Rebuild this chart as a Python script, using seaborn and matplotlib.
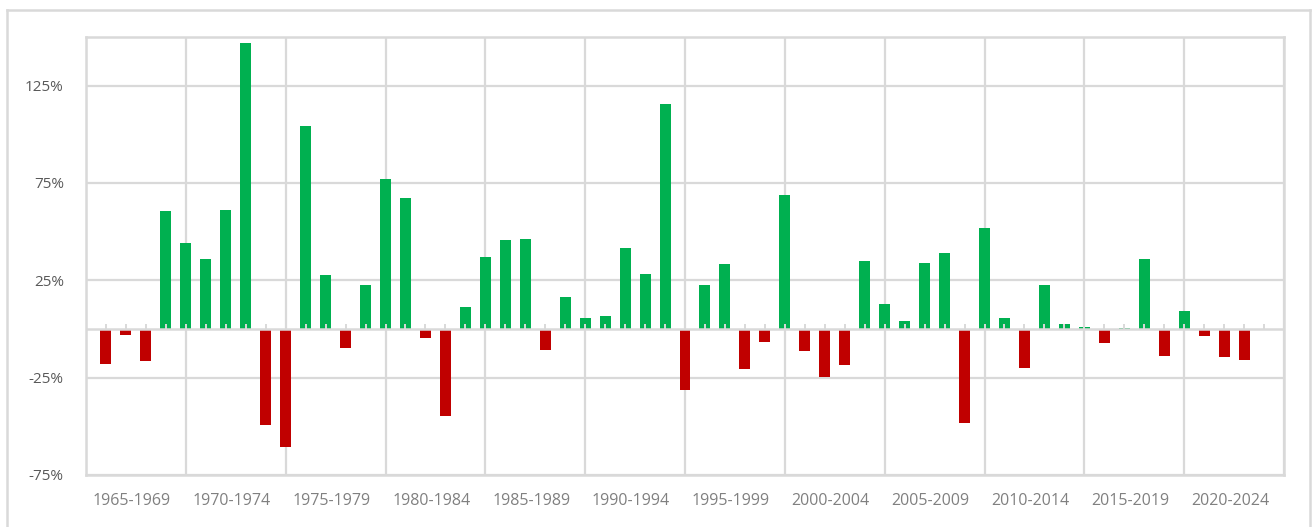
import numpy as np
import pandas as pd
import matplotlib.pyplot as plt
import seaborn as sns
from matplotlib.lines import Line2D
from matplotlib.ticker import FixedLocator, NullFormatter

# ── Data (annual returns, %) ─────────────────────────────────────────────────
years = list(range(1965, 2023))
returns = [
    -18.1, -3.3, -16.6, 60.5, 44.4, 35.9, 61.0, 146.8, -49.1, -60.8,
    104.3, 27.6, -9.8, 22.5, 77.2, 67.4, -4.8, -44.9, 11.4, 37.1,
    45.8, 46.3, -10.9, 16.4, 5.4, 6.6, 41.8, 28.0, 115.6, -31.4,
    22.8, 33.3, -20.7, -6.9, 68.8, -11.4, -24.9, -18.7, 34.7, 13.0,
    4.3, 33.9, 39.0, -48.4, 52.0, 5.4, -20.2, 22.8, 2.8, 1.2,
    -7.4, 0.3, 35.8, -14.0, 9.0, -3.8, -14.5, -16.1,
]
period_labels = ["1965-1969", "1970-1974", "1975-1979", "1980-1984", "1985-1989",
                 "1990-1994", "1995-1999", "2000-2004", "2005-2009", "2010-2014",
                 "2015-2019", "2020-2024"]
y_ticks = [-75, -25, 25, 75, 125]

GREEN, RED, GRID = "#00B050", "#C00000", "#D9D9D9"

df = pd.DataFrame({"year": years, "ret": returns})
df["sign"] = np.where(df["ret"] >= 0, "up", "down")

plt.rcParams["font.family"] = ["Open Sans", "DejaVu Sans"]

fig = plt.figure(figsize=(13.12, 5.27), dpi=100)
ax = fig.add_axes([86 / 1312, 1 - 475 / 527, (1284 - 86) / 1312, (475 - 37) / 527])

sns.barplot(data=df, x="year", y="ret", hue="sign",
            palette={"up": GREEN, "down": RED}, native_scale=True,
            width=0.55, dodge=False, errorbar=None, saturation=1,
            legend=False, ax=ax, zorder=2)

# axes range and grid (one gridline every 5 years, labels between them)
x0, x1 = years[0] - 1, years[0] - 1 + 5 * len(period_labels)
ax.set_xlim(x0, x1)
ax.set_ylim(-75, 150)
ax.set_xticks(np.arange(x0, x1 + 1, 5))
ax.xaxis.set_major_formatter(NullFormatter())
ax.xaxis.set_minor_locator(FixedLocator(np.arange(x0, x1, 5) + 2.3))
ax.set_xticklabels(period_labels, minor=True)
ax.set_yticks(y_ticks)
ax.set_yticklabels([f"{t}%" for t in y_ticks])
ax.grid(True, color=GRID, lw=1.6, zorder=0)
ax.set_axisbelow(True)
ax.tick_params(axis="both", which="both", length=0)
ax.tick_params(axis="x", which="minor", labelsize=11.5, labelcolor="#808080", pad=13)
ax.tick_params(axis="y", labelsize=11, labelcolor="#595959", pad=16)
ax.set_xlabel("")
ax.set_ylabel("")
for sp in ax.spines.values():
    sp.set_color(GRID)
    sp.set_linewidth(1.8)

# zero line with small year ticks
ax.axhline(0, color=GRID, lw=1.8, zorder=3)
ax.vlines(np.arange(x0 + 1, x1), 0, 2.6, color=GRID, lw=1.4, zorder=3)

# outer frame
for xs, ys in [((7, 7), (0, 517)), ((7, 1310), (517, 517)), ((1310, 1310), (0, 517))]:
    fig.add_artist(Line2D([x / 1312 for x in xs], [y / 527 for y in ys],
                          color=GRID, lw=1.8, transform=fig.transFigure))

fig.savefig("out.png", dpi=100, facecolor="white")
